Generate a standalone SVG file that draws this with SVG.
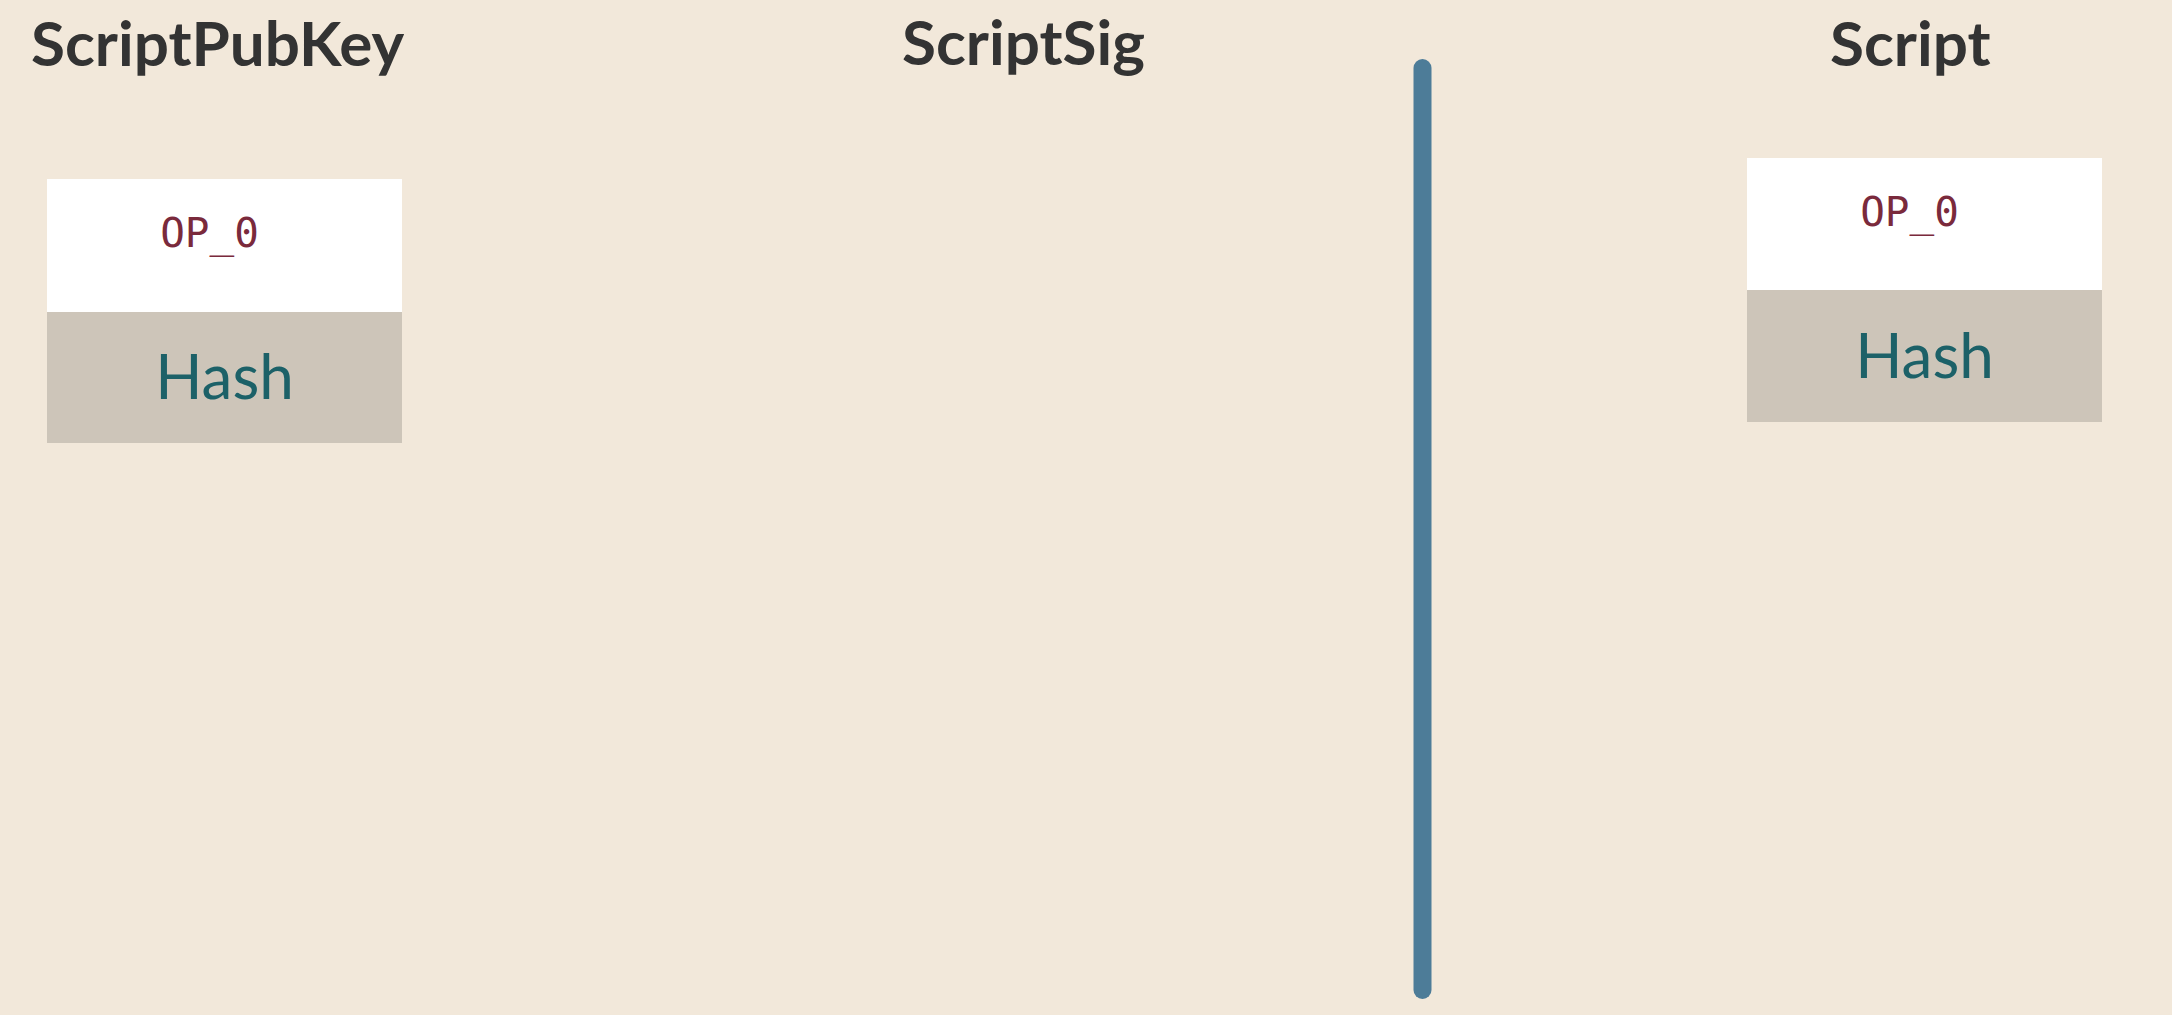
<svg xmlns="http://www.w3.org/2000/svg" width="2172" height="1015" viewBox="0 0 2172 1015">
<style>
.title{font-family:Lato,"Open Sans",sans-serif;font-weight:bold;font-size:62px;fill:#333333}
.op{font-family:"DejaVu Sans Mono","Liberation Mono",monospace;font-size:41px;fill:#7a2a3c}
.hash{font-family:Lato,"Open Sans",sans-serif;font-size:62px;fill:#1c6168}
.top{fill:#ffffff}
.bot{fill:#cdc5b9}
</style>
<rect x="0" y="0" width="2172" height="1015" fill="#f2e8da"/>
<g id="titles">
<text class="title" x="31" y="66">ScriptPubKey</text>
<text class="title" x="902" y="65">ScriptSig</text>
<text class="title" x="1830" y="66">Script</text>
</g>
<g id="pubkey-stack">
<rect class="top" x="47" y="179" width="355" height="133"/>
<rect class="bot" x="47" y="312" width="355" height="131"/>
<text class="op" x="209.5" y="247" text-anchor="middle">OP_0</text>
<text class="hash" x="224.5" y="399" text-anchor="middle">Hash</text>
</g>
<g id="script-stack">
<rect class="top" x="1747" y="158" width="355" height="132"/>
<rect class="bot" x="1747" y="290" width="355" height="132"/>
<text class="op" x="1909.5" y="226" text-anchor="middle">OP_0</text>
<text class="hash" x="1924.5" y="378" text-anchor="middle">Hash</text>
</g>
<g id="connectors">
<line x1="1422.5" y1="68" x2="1422.5" y2="990" stroke="#4d7c98" stroke-width="18" stroke-linecap="round"/>
</g>
</svg>
